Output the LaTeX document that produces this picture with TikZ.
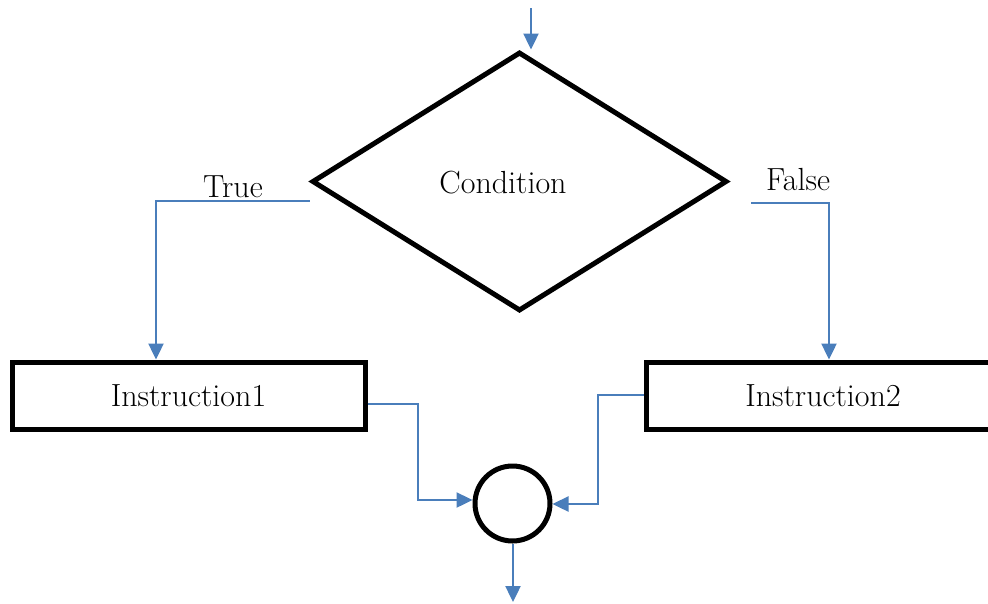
\documentclass[tikz,border=0pt]{standalone}
\usetikzlibrary{shapes.geometric,arrows.meta,calc}
\definecolor{flowblue}{RGB}{74,126,187}
\begin{document}
\begin{tikzpicture}[x=1pt,y=-1pt,
  lbl/.style={font=\fontsize{32}{38}\selectfont, inner sep=0pt},
  outline/.style={draw=black, line width=5pt},
  decision/.style={outline, shape=diamond, minimum width=415pt, minimum height=259pt, inner sep=0pt},
  stepbox/.style={outline, shape=rectangle, minimum width=353pt, minimum height=67pt,
                  font=\fontsize{32}{38}\selectfont},
  junction/.style={outline, shape=circle, minimum size=75pt, inner sep=0pt},
  flow/.style={draw=flowblue, line width=2.4pt, -{Triangle[length=16pt,width=15pt]}}
]
% canvas
\clip (0,0) rectangle (988,603);
\fill[white] (0,0) rectangle (988,603);

% shapes
\node[decision] (cond) at (519.5,181.5) {};
\node[lbl] (condtext) at (503,183) {Condition};
\node[stepbox] (ins1) at (188.5,395.5) {Instruction1};
\node[stepbox] (ins2) at (823,395.5) {Instruction2};
\node[junction] (join) at (512.5,503.5) {};

% branch labels
\node[lbl] (ltrue) at (233,187) {True};
\node[lbl] (lfalse) at (798,180) {False};

% routing points
\coordinate (in)    at (531,8);
\coordinate (tturn) at (156,201);
\coordinate (fstart) at (751,203);
\coordinate (fturn) at (829,203);
\coordinate (a1) at (418,404);
\coordinate (a2) at (418,500);
\coordinate (b1) at (598,395);
\coordinate (b2) at (598,504);
\coordinate (out) at (513,602);

% connectors
\draw[flow] (in) -- (in |- cond.north);
\draw[flow] ($(cond.west)+(0,19.5)$) -- (tturn) -- (tturn |- ins1.north);
\draw[flow] (fstart) -- (fturn) -- (fturn |- ins2.north);
\draw[flow] (ins1.east |- a1) -- (a1) -- (a2) -- (a2 -| join.west);
\draw[flow] (ins2.west |- b1) -- (b1) -- (b2) -- (b2 -| join.east);
\draw[flow] (join.south -| out) -- (out);
\end{tikzpicture}
\end{document}
